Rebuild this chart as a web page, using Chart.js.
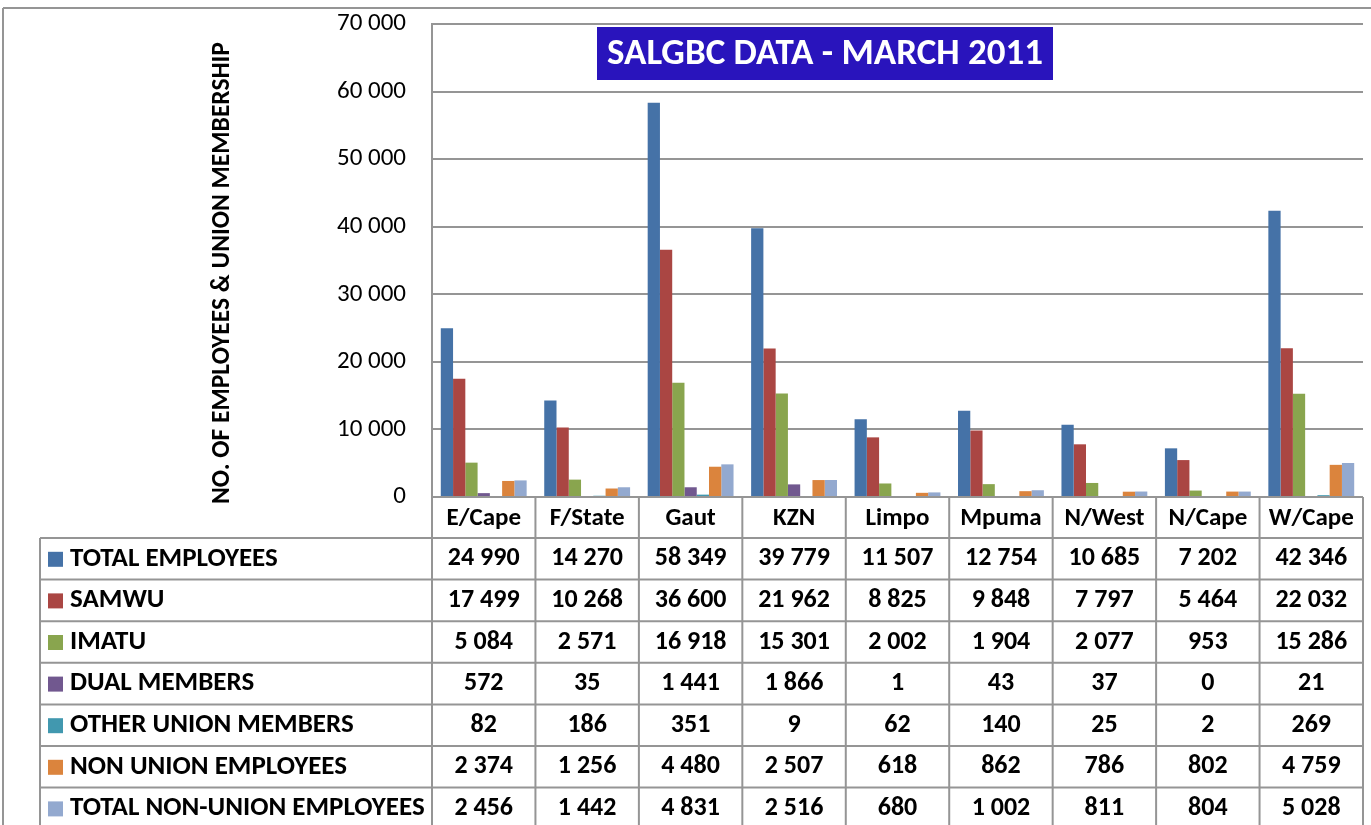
<!DOCTYPE html>
<html>
<head>
<meta charset="utf-8">
<script src="https://cdn.jsdelivr.net/npm/chart.js@4.4.1/dist/chart.umd.min.js"></script>
<style>
  html, body { margin: 0; padding: 0; background: #fff; }
  #wrap { width: 1371px; height: 825px; position: relative; }
</style>
</head>
<body>
<div id="wrap"><canvas id="chart" width="1371" height="825"></canvas></div>
<script>
// provinces
const provinces = ["E/Cape", "F/State", "Gaut", "KZN", "Limpo", "Mpuma", "N/West", "N/Cape", "W/Cape"];

// series values (SALGBC, March 2011)
const totalEmployees = [24990, 14270, 58349, 39779, 11507, 12754, 10685, 7202, 42346];
const samwu = [17499, 10268, 36600, 21962, 8825, 9848, 7797, 5464, 22032];
const imatu = [5084, 2571, 16918, 15301, 2002, 1904, 2077, 953, 15286];
const dualMembers = [572, 35, 1441, 1866, 1, 43, 37, 0, 21];
const otherUnion = [82, 186, 351, 9, 62, 140, 25, 2, 269];
const nonUnion = [2374, 1256, 4480, 2507, 618, 862, 786, 802, 4759];
const totalNonUnion = [2456, 1442, 4831, 2516, 680, 1002, 811, 804, 5028];

const seriesNames = ["TOTAL EMPLOYEES", "SAMWU", "IMATU", "DUAL MEMBERS", "OTHER UNION MEMBERS", "NON UNION EMPLOYEES", "TOTAL NON-UNION EMPLOYEES"];
const seriesColors = ["#4572A7", "#AA4643", "#89A54E", "#71588F", "#4198AF", "#DB843D", "#93A9CF"];

// y axis ticks
const yTicks = [0, 10000, 20000, 30000, 40000, 50000, 60000, 70000];

const FONT = "Carlito, Lato, 'Liberation Sans', sans-serif";

function fmt(v) {
  return String(v).replace(/\B(?=(\d{3})+(?!\d))/g, " ");
}

const allSeries = [totalEmployees, samwu, imatu, dualMembers, otherUnion, nonUnion, totalNonUnion];

// table + labels drawn under the plot
const tablePlugin = {
  id: "dataTable",
  afterDraw(chart) {
    const ctx = chart.ctx;
    const area = chart.chartArea;
    const xs = chart.scales.x;
    const left = area.left, right = area.right;
    const colW = (right - left) / provinces.length;
    const headTop = area.bottom;
    const headH = 41;
    const rowH = 41.6;
    const legendLeft = 40;
    const bottom = chart.height;

    ctx.save();
    ctx.strokeStyle = "#959595";
    ctx.lineWidth = 2;

    // outer frame
    ctx.beginPath();
    ctx.moveTo(3, 8); ctx.lineTo(chart.width, 8);
    ctx.moveTo(3, 8); ctx.lineTo(3, bottom);
    ctx.stroke();

    // table grid
    ctx.beginPath();
    ctx.moveTo(left, headTop); ctx.lineTo(right, headTop);
    for (let i = 0; i <= provinces.length; i++) {
      const x = left + i * colW;
      ctx.moveTo(x, headTop); ctx.lineTo(x, bottom);
    }
    ctx.moveTo(legendLeft, headTop + headH); ctx.lineTo(legendLeft, bottom);
    for (let r = 0; r <= allSeries.length; r++) {
      const y = headTop + headH + r * rowH;
      ctx.moveTo(legendLeft, y); ctx.lineTo(right, y);
    }
    ctx.stroke();

    // category labels
    ctx.fillStyle = "#000";
    ctx.textAlign = "center";
    ctx.textBaseline = "middle";
    ctx.font = "bold 25px " + FONT;
    provinces.forEach((p, i) => {
      ctx.fillText(p, xs.getPixelForValue(i), headTop + headH / 2 + 1);
    });

    // rows
    allSeries.forEach((vals, r) => {
      const yMid = headTop + headH + r * rowH + rowH / 2;
      ctx.fillStyle = seriesColors[r];
      ctx.fillRect(48, yMid - 7, 15, 15);
      ctx.fillStyle = "#000";
      ctx.textAlign = "left";
      ctx.font = "bold 27px " + FONT;
      ctx.fillText(seriesNames[r], 70, yMid);
      ctx.textAlign = "center";
      ctx.font = "bold 26px " + FONT;
      vals.forEach((v, i) => {
        ctx.fillText(fmt(v), xs.getPixelForValue(i), yMid);
      });
    });

    // y axis title
    ctx.save();
    ctx.translate(223, 273);
    ctx.rotate(-Math.PI / 2);
    ctx.textAlign = "center";
    ctx.textBaseline = "middle";
    ctx.font = "bold 25.5px " + FONT;
    ctx.fillStyle = "#000";
    ctx.fillText("NO. OF EMPLOYEES & UNION MEMBERSHIP", 0, 0);
    ctx.restore();

    // title box
    ctx.fillStyle = "#2914BC";
    ctx.fillRect(597, 27, 456, 53);
    ctx.fillStyle = "#fff";
    ctx.textAlign = "center";
    ctx.textBaseline = "middle";
    ctx.font = "bold 37px " + FONT;
    ctx.fillText("SALGBC DATA - MARCH 2011", 825, 55);

    ctx.restore();
  }
};

new Chart(document.getElementById("chart"), {
  type: "bar",
  data: {
    labels: provinces,
    datasets: allSeries.map((vals, i) => ({
      label: seriesNames[i],
      data: vals,
      backgroundColor: seriesColors[i],
      borderWidth: 0,
      categoryPercentage: 0.83,
      barPercentage: 1.0
    }))
  },
  options: {
    responsive: false,
    animation: false,
    events: [],
    layout: { padding: { top: 24, right: 8, bottom: 328, left: 0 } },
    scales: {
      x: {
        ticks: { display: false },
        grid: { display: false, drawTicks: false },
        border: { display: false }
      },
      y: {
        min: 0,
        max: 70000,
        afterBuildTicks(scale) { scale.ticks = yTicks.map(v => ({ value: v })); },
        afterFit(scale) { scale.width = 432; },
        ticks: {
          callback: v => fmt(v),
          color: "#000",
          padding: 8,
          font: { family: FONT, size: 25 }
        },
        grid: { color: "#959595", lineWidth: 2, drawTicks: true, tickLength: 18, tickColor: "rgba(0,0,0,0)" },
        border: { display: true, color: "#959595", width: 2 }
      }
    },
    plugins: {
      legend: { display: false },
      tooltip: { enabled: false },
      title: { display: false }
    }
  },
  plugins: [tablePlugin]
});
</script>
</body>
</html>
